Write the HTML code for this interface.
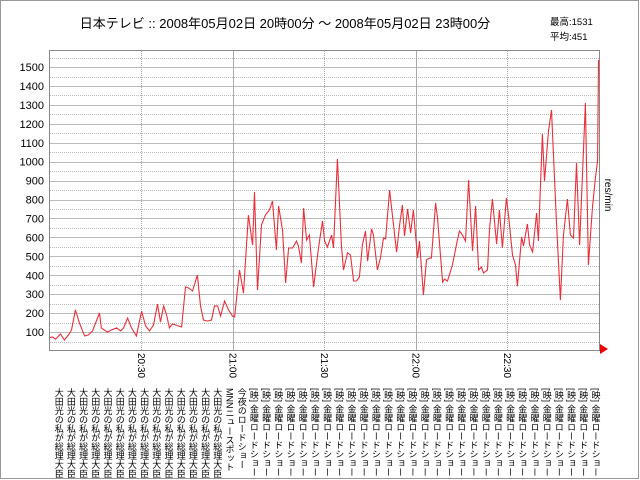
<!DOCTYPE html>
<html><head><meta charset="utf-8">
<style>
html,body{margin:0;padding:0;background:#fff;}
#wrap{position:relative;width:640px;height:480px;overflow:hidden;font-family:"Liberation Sans","Noto Sans CJK JP",sans-serif;}
svg text{font-family:"Liberation Sans","Noto Sans CJK JP",sans-serif;}
</style></head>
<body>
<div id="wrap">
<svg id="svg" width="640" height="480" xmlns="http://www.w3.org/2000/svg">
<rect x="0.5" y="0.5" width="638" height="478" fill="#fff" stroke="#999"/>
<text x="285" y="28" font-size="13" text-anchor="middle" fill="#000">日本テレビ :: 2008年05月02日 20時00分 ～ 2008年05月02日 23時00分</text>
<text x="550" y="25" font-size="9.5" fill="#000">最高:1531</text>
<text x="550" y="40" font-size="9.5" fill="#000">平均:451</text>
<g id="grid"></g>
<g id="ylabels"></g>
<g id="xlabels"></g>
<path id="line" fill="none" stroke="#e8303a" stroke-width="1.1"/>
<rect x="49.5" y="50.5" width="550" height="300" fill="none" stroke="#888"/>
<polygon points="600,344 608,349 600,354" fill="#e00"/>
<text x="605" y="195" font-size="10" fill="#000" transform="rotate(90 605 195)" text-anchor="middle">res/min</text>
</svg>
</div>
<script>
const minutes=[0,1.0,2.0,3.6,4.9,6.2,7.2,8.5,9.8,11.5,12.8,14.1,16.4,17.0,19.0,20.3,22.0,23.3,24.3,25.6,26.9,28.5,30.2,31.5,32.8,34.1,35.4,36.4,37.4,38.4,39.3,40.3,42.3,43.3,44.6,45.6,46.9,48.5,49.5,50.5,51.8,53.1,54.1,55.1,56.1,57.4,58.7,60.0,60.7,62.3,63.6,65.2,66.6,67.2,68.2,69.5,70.8,72.1,73.1,74.4,75.1,76.4,77.4,78.4,79.7,81.0,81.6,82.6,83.3,84.3,85.2,86.6,88.2,89.5,90.2,91.1,92.5,93.1,94.4,95.7,96.4,97.7,98.7,99.7,100.7,101.6,102.6,103.6,104.3,105.6,106.2,107.5,108.5,109.5,110.2,111.5,112.8,113.8,114.8,115.7,116.4,117.4,118.4,119.3,120.7,121.3,122.6,123.6,124.6,125.2,126.6,127.2,128.9,129.5,130.5,132.1,133.4,134.4,135.0,136.4,137.4,138.7,139.7,140.7,141.6,142.3,143.6,144.3,145.2,146.6,147.5,148.5,149.8,150.5,151.8,152.8,153.4,154.8,155.4,156.7,157.4,158.4,159.7,160.3,161.6,162.3,163.6,164.6,166.2,167.5,168.5,169.8,170.8,171.8,172.8,173.8,175.7,176.7,178.0,179.0,179.7,180.0];
const values=[70,74,63,90,58,85,111,217,148,79,85,106,201,122,100,111,122,106,122,174,122,79,211,132,106,137,248,153,238,190,122,143,132,127,338,333,317,401,238,164,158,164,238,238,185,264,217,185,180,428,306,718,560,840,322,666,718,745,792,534,766,639,359,544,544,581,555,465,755,586,613,338,544,687,581,549,613,544,1014,560,428,518,507,370,370,391,560,634,475,645,613,428,491,597,592,850,666,523,666,771,608,750,623,745,491,581,296,481,491,491,782,703,364,380,370,454,560,634,623,581,903,528,766,428,444,412,428,650,803,565,745,544,808,718,507,454,343,602,555,671,560,523,729,581,1146,898,1162,1273,687,269,608,803,613,597,993,560,1310,454,755,914,1004,1537];
const yTicks=[100,200,300,400,500,600,700,800,900,1000,1100,1200,1300,1400,1500];
const timeTicks=[30,60,90,120,150];
const timeLabels=["20:30","21:00","21:30","22:00","22:30"];
const programMinutes=[4,8,12,16,20,24,28,32,36,40,44,48,52,56,60,64,68,72,76,80,84,88,92,96,100,104,108,112,116,120,124,128,132,136,140,144,148,152,156,160,164,168,172,176,180];
const programNames=["大田光の私が総理大臣","MNNニュースポット","今夜のロードショー","[映] 金曜ロードショー"];
const programCounts=[14,1,1,29];

const NS="http://www.w3.org/2000/svg";
const X=m=>49.5+m*(549/180);
const Y=v=>351-v*0.1893;
const grid=document.getElementById('grid');
function mk(tag,attrs,parent){const e=document.createElementNS(NS,tag);for(const k in attrs)e.setAttribute(k,attrs[k]);parent.appendChild(e);return e;}
for(let v=50;v<=1550;v+=50){
  const y=Math.round(Y(v))+0.5; if(y<51)continue;
  const solid=v%100===0;
  const l=mk('line',{x1:50,x2:600,y1:y,y2:y,stroke:'#bbb','stroke-dasharray':solid?'':'1,1'},grid);
  
  
}
timeTicks.forEach((m,i)=>{
  const x=Math.round(X(m))+0.5;
  const l=mk('line',{x1:x,x2:x,y1:51,y2:350,stroke:'#aaa','stroke-dasharray':(m%60===0)?'':'1,1'},grid);
  
  
});
const yl=document.getElementById('ylabels');
yTicks.forEach(v=>{
  const t=mk('text',{x:44,y:Y(v)+4,'font-size':11,'text-anchor':'end',fill:'#000'},yl);
  t.textContent=v;
  
  
});
const xl=document.getElementById('xlabels');
timeTicks.forEach((m,i)=>{
  const x=X(m)-3;
  const t=mk('text',{x:x,y:353,'font-size':10,fill:'#000',transform:`rotate(90 ${x} 353)`},xl);
  t.textContent=timeLabels[i];
  
  
});
let names=[];programCounts.forEach((c,i)=>{for(let k=0;k<c;k++)names.push(programNames[i]);});
programMinutes.forEach((m,i)=>{
  const t=mk('text',{x:X(m)-3,y:388,'font-size':9,fill:'#000',style:'writing-mode:vertical-rl;'},xl);
  t.textContent=names[i];
  
  
});
document.getElementById('line').setAttribute('d',minutes.map((m,i)=>(i?'L':'M')+X(m).toFixed(1)+','+Y(values[i]).toFixed(1)).join(''));
</script>
</body></html>
